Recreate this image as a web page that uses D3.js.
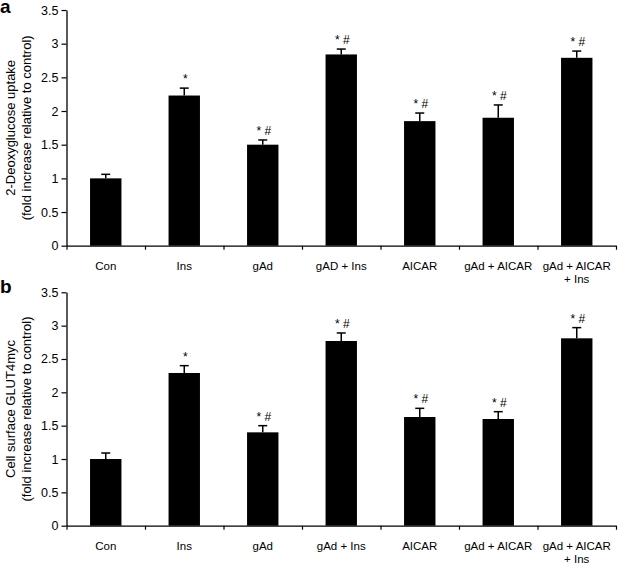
<!DOCTYPE html>
<html>
<head>
<meta charset="utf-8">
<script src="https://cdn.jsdelivr.net/npm/d3@7"></script>
<style>
  html, body { margin: 0; padding: 0; background: #fff; }
  svg { display: block; font-family: "Liberation Sans", Arial, Helvetica, sans-serif; }
</style>
</head>
<body>
<svg id="chart" width="618" height="564"></svg>
<script>
// ---- data ----
const categoriesA = ["Con", "Ins", "gAd", "gAD + Ins", "AICAR", "gAd + AICAR", "gAd + AICAR\n+ Ins"];
const categoriesB = ["Con", "Ins", "gAd", "gAd + Ins", "AICAR", "gAd + AICAR", "gAd + AICAR\n+ Ins"];
const valuesA = [1.00, 2.23, 1.50, 2.84, 1.85, 1.90, 2.79];
const errorsA = [0.06, 0.11, 0.07, 0.08, 0.12, 0.19, 0.10];
const valuesB = [1.00, 2.29, 1.40, 2.77, 1.63, 1.60, 2.81];
const errorsB = [0.09, 0.11, 0.10, 0.12, 0.13, 0.11, 0.16];
const signif = ["", "*", "* #", "* #", "* #", "* #", "* #"];
const yTicks = [0, 0.5, 1, 1.5, 2, 2.5, 3, 3.5];
const titleA = ["2-Deoxyglucose uptake", "(fold increase relative to control)"];
const titleB = ["Cell surface GLUT4myc", "(fold increase relative to control)"];

const svg = d3.select("#chart");

function panel(opts) {
  const { letter, cats, vals, errs, title, yTop, yBottom } = opts;
  const x0 = 66.5, x1 = 616;
  const g = svg.append("g");

  const y = d3.scaleLinear().domain([0, 3.5]).range([yBottom, yTop]);
  const xb = d3.scaleBand().domain(d3.range(cats.length)).range([x0, x1])
    .paddingInner(0.6).paddingOuter(0.3);
  const xEdge = d3.scaleLinear().domain([0, cats.length]).range([x0, x1]);

  // bars
  g.selectAll("rect.bar").data(vals).join("rect")
    .attr("class", "bar")
    .attr("x", (d, i) => xb(i))
    .attr("y", d => y(d))
    .attr("width", xb.bandwidth())
    .attr("height", d => y(0) - y(d))
    .attr("fill", "#000");

  // error bars (upper only)
  const capW = 9;
  g.selectAll("line.err").data(vals).join("line")
    .attr("class", "err")
    .attr("x1", (d, i) => xb(i) + xb.bandwidth() / 2)
    .attr("x2", (d, i) => xb(i) + xb.bandwidth() / 2)
    .attr("y1", d => y(d))
    .attr("y2", (d, i) => y(d + errs[i]))
    .attr("stroke", "#000").attr("stroke-width", 1.5);
  g.selectAll("line.cap").data(vals).join("line")
    .attr("class", "cap")
    .attr("x1", (d, i) => xb(i) + xb.bandwidth() / 2 - capW / 2)
    .attr("x2", (d, i) => xb(i) + xb.bandwidth() / 2 + capW / 2)
    .attr("y1", (d, i) => y(d + errs[i]))
    .attr("y2", (d, i) => y(d + errs[i]))
    .attr("stroke", "#000").attr("stroke-width", 1.5);

  // significance marks
  g.selectAll("text.sig").data(vals).join("text")
    .attr("class", "sig")
    .attr("x", (d, i) => xb(i) + xb.bandwidth() / 2 + 1)
    .attr("y", (d, i) => y(d + errs[i]) - 5)
    .attr("text-anchor", "middle")
    .attr("font-size", 12)
    .attr("fill", "#000")
    .text((d, i) => signif[i]);

  // y axis
  const yAxis = d3.axisLeft(y).tickValues(yTicks).tickFormat(d => String(d))
    .tickSize(5).tickSizeOuter(0).tickPadding(3);
  const ya = g.append("g").attr("transform", `translate(${x0},0)`).call(yAxis);
  ya.select(".domain").attr("stroke", "#000").attr("stroke-width", 1.3);
  ya.selectAll(".tick line").attr("stroke", "#000").attr("stroke-width", 1.2);
  ya.selectAll(".tick text").attr("font-size", 12.5).attr("fill", "#000")
    .attr("font-family", "Liberation Sans, Arial, sans-serif");

  // x axis (ticks at category boundaries)
  const xAxis = d3.axisBottom(xEdge).tickValues(d3.range(cats.length + 1))
    .tickFormat("").tickSize(4).tickSizeOuter(0);
  const xa = g.append("g").attr("transform", `translate(0,${y(0)})`).call(xAxis);
  xa.select(".domain").attr("stroke", "#000").attr("stroke-width", 1.3);
  xa.selectAll(".tick line").attr("stroke", "#000").attr("stroke-width", 1.2);

  // category labels
  const lab = g.selectAll("text.cat").data(cats).join("text")
    .attr("class", "cat")
    .attr("x", (d, i) => xb(i) + xb.bandwidth() / 2)
    .attr("y", y(0) + 24)
    .attr("text-anchor", "middle")
    .attr("font-size", 11.5)
    .attr("fill", "#000");
  lab.each(function (d) {
    const t = d3.select(this);
    const cx = t.attr("x");
    d.split("\n").forEach((line, k) => {
      t.append("tspan").attr("x", cx).attr("dy", k === 0 ? 0 : 13.5).text(line);
    });
  });

  // y title
  const cy = (yTop + yBottom) / 2;
  title.forEach((line, k) => {
    g.append("text")
      .attr("transform", `translate(${14.5 + k * 16},${cy}) rotate(-90)`)
      .attr("text-anchor", "middle")
      .attr("font-size", 13)
      .attr("fill", "#000")
      .text(line);
  });

  // panel letter
  g.append("text")
    .attr("x", 0).attr("y", opts.letterY)
    .attr("font-size", 19).attr("font-weight", "bold")
    .attr("fill", "#000")
    .text(letter);
}

panel({ letter: "a", cats: categoriesA, vals: valuesA, errs: errorsA, title: titleA,
        yTop: 10, yBottom: 245.7, letterY: 13 });
panel({ letter: "b", cats: categoriesB, vals: valuesB, errs: errorsB, title: titleB,
        yTop: 292.3, yBottom: 525.7, letterY: 293 });
</script>
</body>
</html>
